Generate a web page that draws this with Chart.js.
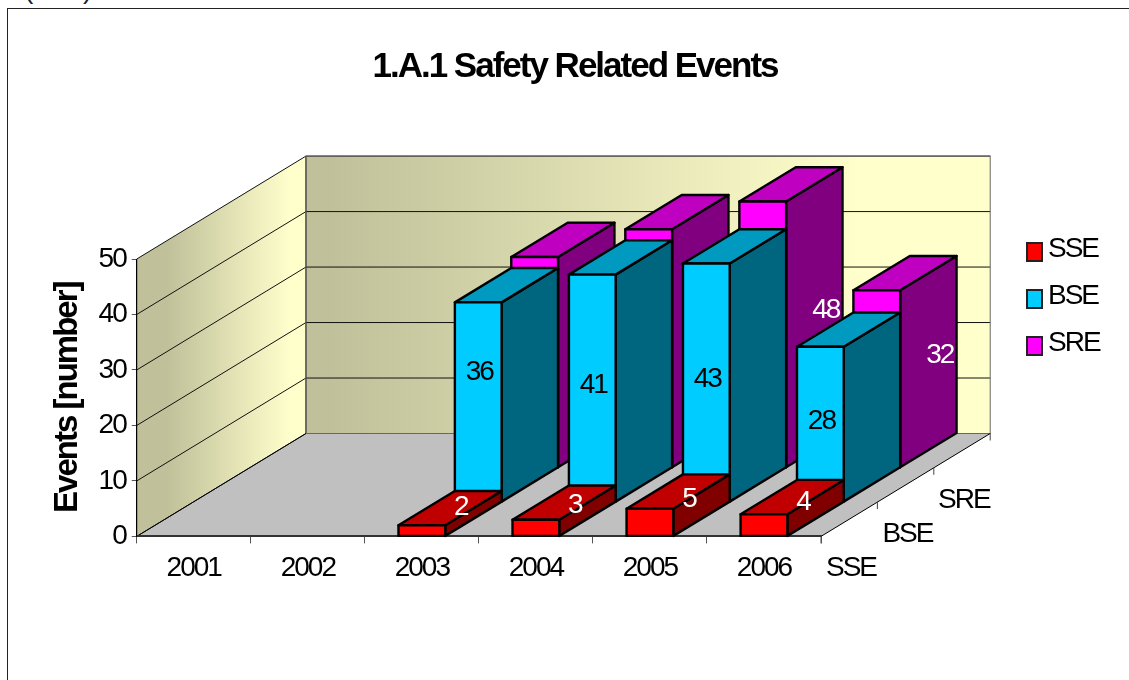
<!DOCTYPE html>
<html>
<head>
<meta charset="utf-8">
<title>1.A.1 Safety Related Events</title>
<script src="https://cdn.jsdelivr.net/npm/chart.js@4"></script>
<style>
    html, body { margin: 0; padding: 0; background: #fff; overflow: hidden; }
    #page { position: relative; width: 1129px; height: 680px; overflow: hidden; }
    #frame { position: absolute; left: 7px; top: 8px; width: 1200px; height: 800px; border: 1.5px solid #222; }
    #note { position: absolute; left: 24px; top: -27px; font: 28px "Liberation Sans", Arial, sans-serif; letter-spacing: -2px; color: #222; }
    canvas { position: absolute; left: 0; top: 0; }
</style>
</head>
<body>
<div id="page">
    <div id="note">(SRE).</div>
    <div id="frame"></div>
    <canvas id="eventsChart" width="1129" height="680"></canvas>
</div>
<script>
const years = ['2001', '2002', '2003', '2004', '2005', '2006'];
const seriesNames = ['SSE', 'BSE', 'SRE'];
const sseValues = [null, null, 2, 3, 5, 4];
const bseValues = [null, null, 36, 41, 43, 28];
const sreValues = [null, null, 38, 43, 48, 32];

// one step back along the depth axis, in pixels
const depthX = 56.4;
const depthY = -34.3;
const font = '"Liberation Sans", Arial, sans-serif';
const tracking = '-2px';

// front, top, side colour of each series
const faces = [
    ['#ff0000', '#c00000', '#800000'],
    ['#00ccff', '#0099bf', '#006680'],
    ['#ff00ff', '#c000c0', '#800080']
];
const labelColors = ['#fff', '#000', '#fff'];
const labelShift = [[39, -23], [1, -3], [63, -24]];

function poly(ctx, pts) {
    ctx.beginPath();
    pts.forEach((p, i) => i ? ctx.lineTo(p[0], p[1]) : ctx.moveTo(p[0], p[1]));
    ctx.closePath();
}

const walls = {
    id: 'walls',
    beforeDraw(chart) {
        const ctx = chart.ctx;
        const { left, right, top, bottom } = chart.chartArea;
        const backX = depthX * seriesNames.length;
        const backY = depthY * seriesNames.length;
        // stays set for the library's own text too
        ctx.letterSpacing = tracking;
        ctx.save();

        // floor
        poly(ctx, [[left, bottom], [right, bottom], [right + backX, bottom + backY], [left + backX, bottom + backY]]);
        ctx.fillStyle = '#c0c0c0';
        ctx.fill();

        // side wall
        let grad = ctx.createLinearGradient(left + 30, 0, left + backX - 15, 0);
        grad.addColorStop(0, '#c0c09a');
        grad.addColorStop(1, '#ffffcc');
        poly(ctx, [[left, bottom], [left + backX, bottom + backY], [left + backX, top + backY], [left, top]]);
        ctx.fillStyle = grad;
        ctx.fill();

        // back wall
        grad = ctx.createLinearGradient(left + backX + 25, 0, right + backX - 130, 0);
        grad.addColorStop(0, '#c0c09a');
        grad.addColorStop(1, '#ffffcc');
        ctx.fillStyle = grad;
        ctx.fillRect(left + backX, top + backY, right - left, bottom - top);

        // gridlines run along the side wall and across the back wall
        ctx.strokeStyle = '#111';
        ctx.lineWidth = 1;
        chart.scales.y.ticks.forEach(t => {
            const y = chart.scales.y.getPixelForValue(t.value);
            ctx.beginPath();
            ctx.moveTo(left, y);
            ctx.lineTo(left + backX, y + backY);
            ctx.lineTo(right + backX, y + backY);
            ctx.stroke();
        });
        ctx.beginPath();
        ctx.moveTo(left, top);
        ctx.lineTo(left, bottom);
        ctx.moveTo(left + backX, top + backY);
        ctx.lineTo(left + backX, bottom + backY);
        ctx.stroke();
        ctx.strokeStyle = '#666';
        ctx.strokeRect(left + backX, top + backY, right - left, bottom - top);

        // floor edges
        ctx.strokeStyle = '#000';
        ctx.beginPath();
        ctx.moveTo(left, bottom);
        ctx.lineTo(left + backX, bottom + backY);
        ctx.moveTo(right, bottom);
        ctx.lineTo(right + backX, bottom + backY);
        ctx.stroke();

        // depth axis ticks and labels
        ctx.strokeStyle = '#444';
        for (let k = 0; k <= seriesNames.length; k++) {
            ctx.beginPath();
            ctx.moveTo(right + depthX * k, bottom + depthY * k);
            ctx.lineTo(right + depthX * k, bottom + depthY * k + 7);
            ctx.stroke();
        }
        ctx.fillStyle = '#000';
        ctx.font = '28px ' + font;
        ctx.textAlign = 'center';
        ctx.textBaseline = 'middle';
        seriesNames.forEach((name, k) => {
            ctx.fillText(name, right + 30 + depthX * k, bottom + 32 + depthY * k);
        });
        ctx.restore();
    }
};

const bars3d = {
    id: 'bars3d',
    afterLayout(chart) {
        // title is centred a little right of the canvas middle
        chart.titleBlock.left = 0;
        chart.titleBlock.right = 1150;
    },
    beforeDatasetDraw(chart, args) {
        const ctx = chart.ctx;
        const k = args.index;
        const dx = depthX * k;
        const dy = depthY * k;
        ctx.save();
        ctx.strokeStyle = '#000';
        ctx.lineWidth = 2.4;
        ctx.lineJoin = 'round';
        args.meta.data.forEach((bar, i) => {
            if (chart.data.datasets[k].data[i] === null) return;
            const x0 = bar.x - bar.width / 2 + dx;
            const x1 = bar.x + bar.width / 2 + dx;
            const yTop = bar.y + dy;
            const yBase = bar.base + dy;
            poly(ctx, [[x1, yTop], [x1 + depthX, yTop + depthY], [x1 + depthX, yBase + depthY], [x1, yBase]]);
            ctx.fillStyle = faces[k][2];
            ctx.fill();
            ctx.stroke();
            poly(ctx, [[x0, yTop], [x1, yTop], [x1 + depthX, yTop + depthY], [x0 + depthX, yTop + depthY]]);
            ctx.fillStyle = faces[k][1];
            ctx.fill();
            ctx.stroke();
            poly(ctx, [[x0, yTop], [x1, yTop], [x1, yBase], [x0, yBase]]);
            ctx.fillStyle = faces[k][0];
            ctx.fill();
            ctx.stroke();
        });
        ctx.fillStyle = labelColors[k];
        ctx.font = '28px ' + font;
        ctx.textAlign = 'center';
        ctx.textBaseline = 'middle';
        args.meta.data.forEach((bar, i) => {
            const v = chart.data.datasets[k].data[i];
            if (v === null) return;
            // the 2003 BSE label rides higher than its neighbours
            const lift = (k === 1 && i === 2) ? -27 : 0;
            const cx = bar.x + dx + labelShift[k][0];
            const cy = (bar.y + bar.base) / 2 + dy + labelShift[k][1] + lift;
            ctx.fillText(String(v), cx, cy);
        });
        ctx.restore();
        return false;
    },
    afterDraw(chart) {
        // legend: the built-in one ties its text gap to the font size, too wide here
        const ctx = chart.ctx;
        ctx.save();
        ctx.font = '28px ' + font;
        ctx.textAlign = 'left';
        ctx.textBaseline = 'middle';
        seriesNames.forEach((name, k) => {
            const cy = 249 + 47 * k;
            ctx.fillStyle = faces[k][0];
            ctx.strokeStyle = '#222';
            ctx.lineWidth = 2;
            ctx.fillRect(1027, cy - 6, 15, 18);
            ctx.strokeRect(1027, cy - 6, 15, 18);
            ctx.fillStyle = '#000';
            ctx.fillText(name, 1048, cy);
        });
        ctx.restore();
    }
};

const seriesValues = [sseValues, bseValues, sreValues];

new Chart(document.getElementById('eventsChart'), {
    type: 'bar',
    plugins: [walls, bars3d],
    data: {
        labels: years,
        datasets: seriesNames.map((name, k) => ({
            label: name,
            data: seriesValues[k],
            backgroundColor: faces[k][0],
            borderColor: '#000',
            borderWidth: 2,
            grouped: false,
            categoryPercentage: 1,
            barPercentage: 0.41
        }))
    },
    options: {
        responsive: false,
        animation: false,
        layout: { padding: { left: 48, right: 308, top: 0, bottom: 87 } },
        plugins: {
            tooltip: { enabled: false },
            legend: { display: false },
            title: {
                display: true,
                text: '1.A.1 Safety Related Events',
                color: '#000',
                font: { family: font, size: 35, weight: 'bold' },
                padding: { top: 46, bottom: 171 }
            }
        },
        scales: {
            x: {
                grid: { drawOnChartArea: false, tickLength: 7, color: '#555', offset: true },
                border: { color: '#333', width: 2 },
                ticks: { color: '#000', maxRotation: 0, padding: 8, font: { family: font, size: 28 } }
            },
            y: {
                min: 0,
                max: 50,
                grid: { drawOnChartArea: false, tickLength: 5, color: '#555' },
                border: { color: '#000', width: 1 },
                ticks: { stepSize: 10, color: '#000', padding: 6, font: { family: font, size: 28 } },
                title: {
                    display: true,
                    text: 'Events [number]',
                    color: '#000',
                    padding: { top: 0, bottom: 1 },
                    font: { family: font, size: 33, weight: 'bold' }
                }
            }
        }
    }
});
</script>
</body>
</html>
